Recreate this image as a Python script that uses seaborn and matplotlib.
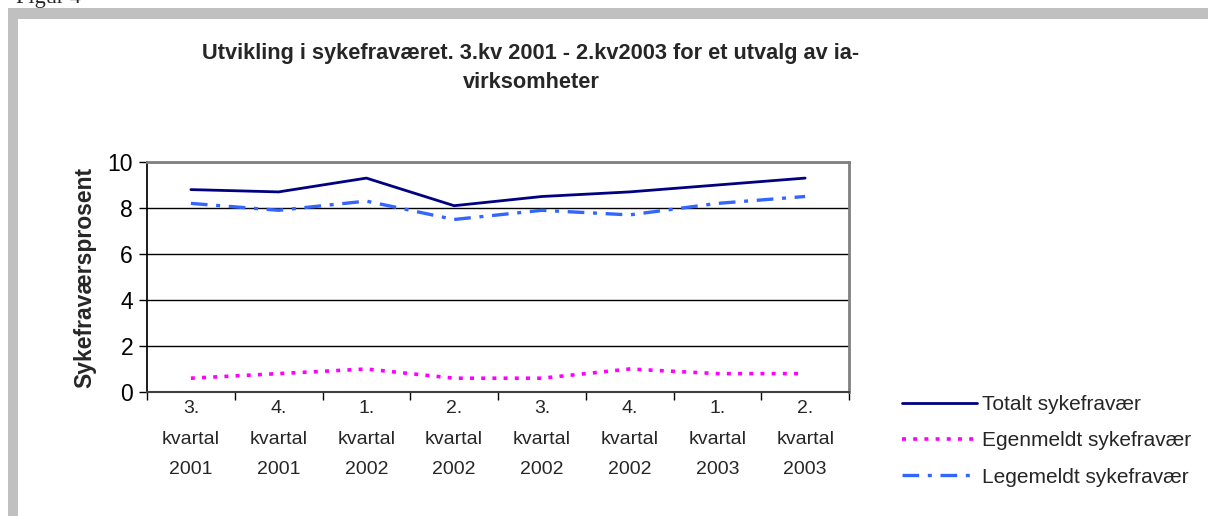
"""Sykefravær i ia-virksomheter, 3. kv 2001 - 2. kv 2003."""

import matplotlib

matplotlib.use("Agg")
import matplotlib.pyplot as plt
import numpy as np
import pandas as pd
import seaborn as sns
from matplotlib.patches import Rectangle
from matplotlib.ticker import FixedLocator, NullFormatter

kvartaler = [
    "3.\nkvartal\n2001", "4.\nkvartal\n2001", "1.\nkvartal\n2002", "2.\nkvartal\n2002",
    "3.\nkvartal\n2002", "4.\nkvartal\n2002", "1.\nkvartal\n2003", "2.\nkvartal\n2003",
]
totalt = [8.8, 8.7, 9.3, 8.1, 8.5, 8.7, 9.0, 9.3]
egenmeldt = [0.6, 0.8, 1.0, 0.6, 0.6, 1.0, 0.8, 0.8]
legemeldt = [8.2, 7.9, 8.3, 7.5, 7.9, 7.7, 8.2, 8.5]

serier = ["Totalt sykefravær", "Egenmeldt sykefravær", "Legemeldt sykefravær"]
farger = ["#000080", "#FF00FF", "#3366FF"]

sns.set_theme(style="white")
plt.rcParams["font.family"] = ["Liberation Sans", "DejaVu Sans"]

W, H = 1208, 516
fig = plt.figure(figsize=(W / 100, H / 100), dpi=100)
fig.patch.set_facecolor("white")

# grey frame (top and left edges visible)
grey = "#C0C0C0"
fig.patches.append(Rectangle((8 / W, 1 - 19 / H), 1, 11 / H, transform=fig.transFigure,
                             facecolor=grey, edgecolor="none"))
fig.patches.append(Rectangle((8 / W, 0), 10 / W, 1 - 8 / H, transform=fig.transFigure,
                             facecolor=grey, edgecolor="none"))
fig.text(16 / W, 1 - 2.5 / H, "Figur 4", family=["Liberation Serif", "DejaVu Serif"],
         fontsize=16, va="baseline", ha="left")

ax = fig.add_axes([147 / W, (H - 392) / H, 702 / W, 230 / H])

x = np.arange(len(kvartaler))
stiler = [
    dict(lw=2.0, ls="-"),
    dict(lw=2.6, dashes=(1.1, 2.0)),
    dict(lw=2.4, dashes=(5.0, 2.6, 1.2, 2.6)),
]
for navn, verdier, farge, stil in zip(serier, [totalt, egenmeldt, legemeldt], farger, stiler):
    sns.lineplot(x=x, y=verdier, color=farge, label=navn, ax=ax, **stil)

ax.set_xlim(-0.5, len(kvartaler) - 0.5)
ax.set_ylim(0, 10)
ax.set_yticks([0, 2, 4, 6, 8, 10])
ax.yaxis.grid(True, color="black", lw=1.0)
ax.set_axisbelow(True)
ax.tick_params(axis="y", labelsize=16.5, length=6, width=1, color="black",
               left=True, pad=4, labelcolor="black")

ax.xaxis.set_major_locator(FixedLocator(np.arange(len(kvartaler) + 1) - 0.5))
ax.xaxis.set_major_formatter(NullFormatter())
ax.xaxis.set_minor_locator(FixedLocator(x))
ax.set_xticklabels(kvartaler, minor=True)
ax.tick_params(axis="x", which="major", length=6, width=1, color="black", bottom=True)
ax.tick_params(axis="x", which="minor", length=0, labelsize=14, pad=6)
for lab in ax.get_xticklabels(minor=True):
    lab.set_linespacing(2.02)

for side in ["top", "right"]:
    ax.spines[side].set_color("#808080")
    ax.spines[side].set_linewidth(2)
ax.spines["left"].set_color("black")
ax.spines["bottom"].set_color("#404040")
ax.spines["bottom"].set_linewidth(1.5)

ax.set_xlabel("")
ax.set_ylabel("Sykefraværsprosent", fontsize=16.5, fontweight="bold", labelpad=8)

fig.text(531 / W, 1 - 68 / H,
         "Utvikling i sykefraværet. 3.kv 2001 - 2.kv2003 for et utvalg av ia-\nvirksomheter",
         ha="center", va="center", fontsize=15.7, fontweight="bold", linespacing=1.48)

handles, labels = ax.get_legend_handles_labels()
ax.legend_.remove()
fig.legend(handles, labels, loc="upper left", bbox_to_anchor=(902 / W, 1 - 395 / H),
           frameon=False, fontsize=15, handlelength=3.6, handletextpad=0.24,
           labelspacing=0.83, borderaxespad=0, borderpad=0)

fig.savefig("out.png", dpi=100, facecolor="white")
